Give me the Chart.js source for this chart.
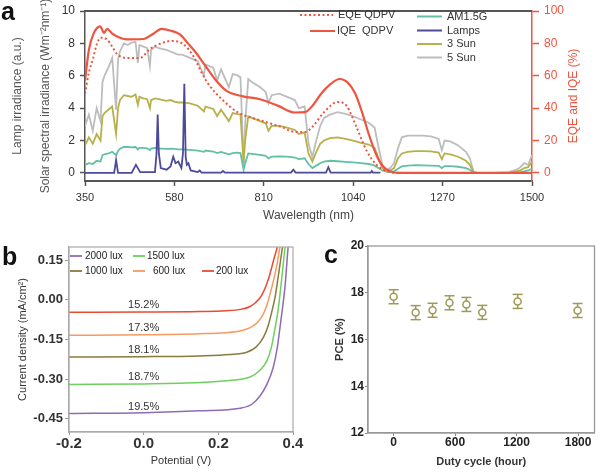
<!DOCTYPE html>
<html>
<head>
<meta charset="utf-8">
<script src="https://cdn.jsdelivr.net/npm/chart.js@4.4.1/dist/chart.umd.min.js"></script>
<style>
  body { margin: 0; background: #fff; }
  #wrap { position: relative; width: 600px; height: 473px; overflow: hidden; }
  canvas { position: absolute; }
  .lbl { position: absolute; font: bold 25px "Liberation Sans", Arial, sans-serif; line-height: 25px; color: #111; }
</style>
</head>
<body>
<div id="wrap">
  <canvas id="cb" width="310" height="243" style="left:0px;top:230px"></canvas>
  <canvas id="cc" width="300" height="243" style="left:300px;top:230px"></canvas>
  <canvas id="ca" width="600" height="228" style="left:0px;top:0px"></canvas>
  <div class="lbl" style="left:1px;top:-1px">a</div>
  <div class="lbl" style="left:2px;top:244px">b</div>
  <div class="lbl" style="left:324px;top:242px">c</div>
</div>
<script>
// ---------- panel a : spectra (left axis) ----------
const wl    = [350,360,370,380,390,395,400,410,420,430,435,440,450,460,470,480,486,490,500,510,517,520,530,540,550,560,570,580,590,600,620,640,656,660,680,690,700,720,730,740,750,758,762,770,780,800,815,822,830,850,870,890,900,915,925,935,945,955,965,980,1000,1020,1040,1060,1080,1095,1105,1115,1125,1135,1145,1155,1165,1180,1200,1220,1240,1260,1268,1275,1290,1310,1330,1340,1350,1360,1400,1440,1460,1470,1480,1490,1500];
const am15  = [0.5,0.6,0.55,0.75,0.7,1.1,1.15,1.2,1.3,1.1,1.35,1.5,1.6,1.6,1.58,1.6,1.45,1.55,1.55,1.52,1.4,1.5,1.55,1.5,1.5,1.48,1.5,1.48,1.45,1.45,1.42,1.38,1.3,1.38,1.32,1.22,1.3,1.15,1.22,1.25,1.22,0.2,0.6,1.2,1.18,1.12,1.05,0.9,1.0,1.02,1.0,0.95,0.85,0.9,0.55,0.3,0.45,0.6,0.7,0.75,0.72,0.68,0.65,0.6,0.55,0.45,0.3,0.15,0.08,0.05,0.1,0.25,0.4,0.45,0.48,0.47,0.45,0.44,0.3,0.42,0.42,0.38,0.3,0.2,0.02,0,0,0,0.02,0.05,0.1,0.15,0.25];
const sun3  = [1.7,2.2,1.8,2.4,2.0,3.5,3.7,3.9,4.1,2.4,4.0,4.5,4.8,4.75,4.7,4.85,4.2,4.7,4.6,4.55,4.0,4.5,4.6,4.55,4.5,4.45,4.5,4.4,4.35,4.35,4.3,4.15,3.8,4.1,3.95,3.5,3.9,3.2,3.7,3.65,3.6,0.6,2.0,3.5,3.4,3.2,3.05,2.6,2.9,2.9,2.8,2.65,2.4,2.5,1.2,0.7,1.3,1.8,2.0,2.15,2.2,2.1,2.0,1.85,1.75,1.55,0.9,0.3,0.1,0.15,0.3,0.9,1.2,1.3,1.35,1.35,1.33,1.25,0.85,1.2,1.15,1.0,0.75,0.5,0.05,0,0,0,0.1,0.15,0.3,0.35,0.7];
const sun5  = [2.9,3.6,2.6,4.0,3.2,5.6,6.0,6.5,7.1,3.9,7.0,7.5,8.0,7.9,8.05,8.1,6.8,7.9,7.8,7.7,6.6,7.6,7.8,7.7,7.65,7.6,7.5,7.4,7.3,7.3,7.1,6.9,6.0,6.7,6.5,5.7,6.4,5.3,6.1,6.05,5.9,0.5,3.0,5.8,5.6,5.3,5.0,4.3,4.8,4.9,4.7,4.5,4.0,4.1,1.8,1.0,2.0,2.9,3.4,3.6,3.75,3.65,3.5,3.3,3.1,2.8,1.6,0.5,0.15,0.3,0.6,1.5,2.2,2.3,2.3,2.3,2.25,2.1,1.4,2.0,1.95,1.7,1.3,0.9,0.05,0,0,0.05,0.2,0.35,0.6,0.5,1.1];
const lampWl  = [350,425,430,435,470,481,492,530,534,537,540,545,560,570,577,583,590,598,602,605.5,609,612,616,622,640,645,650,700,705,710,880,886,892,970,976,982,1085,1088,1091,1110];
const lampVal = [0,0,0.8,0,0,0.5,0.05,0.05,1.2,3.6,1.2,0.3,0.2,0.4,1.0,0.6,0.7,0.3,1.2,5.5,1.0,0.5,0.6,0.15,0.05,0.15,0.02,0.02,0.12,0.02,0.02,0.2,0.02,0.02,0.35,0.02,0.02,0.12,0.02,0.02];
// ---------- panel a : quantum efficiency (right axis, %) ----------
const iqeWl  = [350,360,372,389,399,407,420,440,457,500,526,547,569,594,615,633,660,684,715,757,800,847,890,916,937,958,980,1005,1025,1045,1062,1080,1098,1115,1135,1160,1300,1500];
const iqeVal = [57,76,86,90.5,86.5,89,86,83.5,82.5,82.7,86,89,88,85.5,80,75,66,58,50.5,47.3,45.5,41.4,37.3,37.5,42,49,54.5,58,56,49,38,24,12,4.5,1,0,0,0];
const eqeWl  = [350,360,371,381,390,406,420,432,457,491,517,551,573,603,629,650,667,702,744,804,856,890,916,937,963,1000,1023,1049,1075,1100,1126,1150,1300,1500];
const eqeVal = [49,62,71,80,83.5,82.5,78,73.5,71,71,76.5,80.5,81.5,79.5,72,62,55,45.5,37.3,32.3,28.3,25.3,25.3,29,37,43.8,41.4,28,13.5,5,1.2,0,0,0];
const aXTicks  = [350,580,810,1040,1270,1500];
const aYTicks  = [0,2,4,6,8,10];
const aY2Ticks = [0,20,40,60,80,100];
const aLegendLeft  = ['EQE QDPV','IQE  QDPV'];
const aLegendRight = ['AM1.5G','Lamps','3 Sun','5 Sun'];

// ---------- panel b : J-V curves ----------
const luxLabels = ['2000 lux','1500 lux','1000 lux','600 lux','200 lux'];
const pceLabels = ['19.5%','18.7%','18.1%','17.3%','15.2%'];
const v2000 = [-0.2,0,0.15,0.258,0.29,0.312,0.33,0.347,0.358,0.365,0.372,0.379,0.387,0.392];
const j2000 = [-0.43,-0.427,-0.42,-0.41,-0.395,-0.363,-0.32,-0.256,-0.18,-0.106,-0.03,0.056,0.2,0.26];
const v1500 = [-0.2,0,0.15,0.23,0.285,0.31,0.33,0.342,0.352,0.36,0.367,0.379,0.385];
const j1500 = [-0.32,-0.318,-0.313,-0.305,-0.292,-0.268,-0.231,-0.18,-0.106,-0.04,0.044,0.2,0.26];
const v1000 = [-0.2,0,0.15,0.23,0.276,0.3,0.32,0.333,0.343,0.352,0.361,0.372,0.378];
const j1000 = [-0.216,-0.215,-0.212,-0.207,-0.198,-0.18,-0.144,-0.1,-0.046,0.01,0.094,0.2,0.25];
const v600  = [-0.2,0,0.15,0.22,0.258,0.285,0.303,0.318,0.33,0.347,0.358,0.365,0.372];
const j600  = [-0.134,-0.132,-0.128,-0.124,-0.118,-0.105,-0.088,-0.06,-0.02,0.069,0.14,0.2,0.25];
const v200  = [-0.2,0,0.15,0.22,0.26,0.285,0.3,0.316,0.334,0.35,0.358,0.365];
const j200  = [-0.047,-0.046,-0.044,-0.041,-0.036,-0.025,-0.01,0.017,0.078,0.16,0.2,0.24];
const bXTicks = [-0.2,0,0.2,0.4];
const bYTicks = [-0.45,-0.3,-0.15,0,0.15];

// ---------- panel c : stability ----------
const dutyHours = [0,215,380,545,710,865,1210,1795];
const pceMean   = [17.83,17.15,17.25,17.57,17.5,17.16,17.63,17.24];
const pceErr    = [0.3,0.3,0.3,0.3,0.3,0.3,0.3,0.3];
const cXTicks = [0,600,1200,1800];
const cYTicks = [12,14,16,18,20];

// ---------- helpers ----------
const FONT = '"Liberation Sans", Arial, sans-serif';
Chart.defaults.font.family = FONT;
const RED = '#ef5440';
function pts(xs, ys){ return xs.map((x,i)=>({x:x, y:ys[i]})); }
function setTicks(arr){ return s => { s.ticks = arr.map(v => ({value:v})); }; }
function fixW(w){ return s => { s.width = w; }; }
function fixH(h){ return s => { s.height = h; }; }
function line(ctx, x1, y1, x2, y2, color, w, dash){
  ctx.save(); ctx.strokeStyle = color; ctx.lineWidth = w; ctx.setLineDash(dash || []);
  ctx.beginPath(); ctx.moveTo(x1,y1); ctx.lineTo(x2,y2); ctx.stroke(); ctx.restore();
}
function txt(ctx, s, x, y, font, color, align){
  ctx.save(); ctx.font = font; ctx.fillStyle = color; ctx.textAlign = align || 'left';
  ctx.textBaseline = 'middle'; ctx.fillText(s, x, y); ctx.restore();
}
function spec(label, xs, ys, color, w){
  return {label, data: pts(xs, ys), borderColor: color, borderWidth: w, pointRadius: 0, tension: 0, yAxisID: 'y'};
}

// ---------- chart a ----------
const aPlugin = {
  id: 'aDecor',
  afterDraw(chart){
    const c = chart.ctx, a = chart.chartArea;
    line(c, a.left, a.top, a.right, a.top, '#555', 2);
    // right-hand title, reading bottom to top
    c.save(); c.translate(chart.scales.y2.right - 26, (a.top + a.bottom)/2); c.rotate(-Math.PI/2);
    txt(c, 'EQE and IQE (%)', 0, 0, '12px ' + FONT, RED, 'center'); c.restore();
    // legend
    line(c, 300, 15, 333, 15, RED, 2, [2,2.5]);
    line(c, 310, 31, 335, 31, RED, 2);
    txt(c, aLegendLeft[0], 338, 15, '11px ' + FONT, '#333');
    txt(c, aLegendLeft[1], 337, 31, '11px ' + FONT, '#333');
    const cols = ['#62c0a5','#4d4a9a','#b6b14a','#bdbdbd'];
    const ys = [16.5, 30.5, 44, 57.5];
    aLegendRight.forEach((s,i) => {
      line(c, 417, ys[i], 442, ys[i], cols[i], 2);
      txt(c, s, 447, ys[i], '11px ' + FONT, '#333');
    });
  }
};

new Chart(document.getElementById('ca'), {
  type: 'line',
  data: { datasets: [
    {label:'IQE QDPV', data: pts(iqeWl, iqeVal), borderColor: RED, borderWidth: 2.2, pointRadius: 0, cubicInterpolationMode: 'monotone', yAxisID: 'y2'},
    {label:'EQE QDPV', data: pts(eqeWl, eqeVal), borderColor: RED, borderWidth: 2, borderDash: [2,2.5], pointRadius: 0, cubicInterpolationMode: 'monotone', yAxisID: 'y2'},
    spec('Lamps', lampWl, lampVal, '#4d4a9a', 1.8),
    spec('AM1.5G', wl, am15, '#62c0a5', 1.8),
    spec('3 Sun', wl, sun3, '#b6b14a', 1.8),
    spec('5 Sun', wl, sun5, '#bdbdbd', 1.8)
  ]},
  options: {
    responsive: false, animation: false,
    layout: { padding: {top: 6, right: 0, bottom: 0, left: 0} },
    plugins: { legend: {display: false}, tooltip: {enabled: false} },
    scales: {
      x: { type: 'linear', min: 350, max: 1500,
        afterBuildTicks: setTicks(aXTicks), afterFit: fixH(47),
        grid: {drawOnChartArea: false, tickLength: 5, color: '#555', tickWidth: 1.5},
        border: {display: true, color: '#555', width: 2},
        ticks: {font: {size: 11, lineHeight: 1}, color: '#333', padding: 6, maxRotation: 0, autoSkip: false, callback: v => String(v)},
        title: {display: true, text: 'Wavelength (nm)', font: {size: 12}, color: '#444', padding: {top: 0, bottom: 5}} },
      y: { position: 'left', min: -0.5, max: 10,
        afterBuildTicks: setTicks(aYTicks), afterFit: fixW(85),
        grid: {drawOnChartArea: false, tickLength: 5, color: '#555', tickWidth: 1.5},
        border: {display: true, color: '#555', width: 1.5},
        ticks: {font: {size: 12, lineHeight: 1}, color: '#333', padding: 5, callback: v => String(v)},
        title: {display: true, text: ['Lamp irradiance (a.u.)', 'Solar spectral irradiance (Wm\u207B\u00B2nm\u207B\u00B9)'],
          font: {size: 12, lineHeight: 2.375}, color: '#555', padding: {top: 3.25, bottom: 0}} },
      y2: { position: 'right', min: -5, max: 100,
        afterBuildTicks: setTicks(aY2Ticks), afterFit: fixW(68),
        grid: {drawOnChartArea: false, tickLength: 7, color: RED, tickWidth: 1.5},
        border: {display: true, color: RED, width: 1.5},
        ticks: {font: {size: 12, lineHeight: 1}, color: RED, padding: 5, callback: v => String(v)} }
    }
  },
  plugins: [aPlugin]
});

// ---------- chart b ----------
const bColors = ['#8e6bb3','#6fcf5e','#8a7a3e','#f79a60','#ea4a32'];
const bV = [v2000, v1500, v1000, v600, v200];
const bJ = [j2000, j1500, j1000, j600, j200];
const bPlugin = {
  id: 'bDecor',
  afterDraw(chart){
    const c = chart.ctx, a = chart.chartArea, xs = chart.scales.x, ys = chart.scales.y;
    c.save(); c.strokeStyle = '#aaa'; c.lineWidth = 1.2; c.strokeRect(a.left, a.top, a.right - a.left, a.bottom - a.top); c.restore();
    // efficiency labels just above each plateau
    pceLabels.forEach((s,i) => {
      txt(c, s, xs.getPixelForValue(0), ys.getPixelForValue(bJ[i][0]) - 7, '11px ' + FONT, '#333', 'center');
    });
    // legend, three columns
    const lx = [70, 133, 70, 133, 202], tx = [85, 147, 85, 153, 216], ly = [26, 26, 41, 41, 41];
    luxLabels.forEach((s,i) => {
      line(c, lx[i], ly[i], lx[i] + 12, ly[i], bColors[i], 1.8);
      txt(c, s, tx[i], ly[i], '10px ' + FONT, '#222');
    });
  }
};
new Chart(document.getElementById('cb'), {
  type: 'line',
  data: { datasets: luxLabels.map((s,i) => ({
    label: s, data: pts(bV[i], bJ[i]), borderColor: bColors[i], borderWidth: 1.5,
    pointRadius: 0, cubicInterpolationMode: 'monotone'
  })) },
  options: {
    responsive: false, animation: false,
    layout: { padding: {top: 17, right: 17, bottom: 0, left: 0} },
    plugins: { legend: {display: false}, tooltip: {enabled: false} },
    scales: {
      x: { type: 'linear', min: -0.2, max: 0.4,
        afterBuildTicks: setTicks(bXTicks), afterFit: fixH(41),
        grid: {drawOnChartArea: false, tickLength: 3, color: '#999'},
        border: {display: true, color: '#aaa', width: 1.2},
        ticks: {font: {size: 15, weight: 'bold', lineHeight: 1}, color: '#333', padding: 1, maxRotation: 0, autoSkip: false, callback: v => v.toFixed(1)},
        title: {display: true, text: 'Potential (V)', font: {size: 11}, color: '#333', padding: {top: 0, bottom: 5.4}} },
      y: { min: -0.5, max: 0.2,
        afterBuildTicks: setTicks(bYTicks), afterFit: fixW(69),
        grid: {drawOnChartArea: false, tickLength: 4, color: '#999'},
        border: {display: true, color: '#aaa', width: 1.2},
        ticks: {font: {size: 13, weight: 'bold', lineHeight: 1}, color: '#333', padding: 2, callback: v => v.toFixed(2)},
        title: {display: true, text: 'Current density (mA/cm\u00B2)', font: {size: 11}, color: '#333', padding: {top: 16, bottom: 0}} }
    }
  },
  plugins: [bPlugin]
});

// ---------- chart c ----------
const OLIVE = '#9c9a55';
const cPlugin = {
  id: 'cDecor',
  beforeDatasetsDraw(chart){
    const c = chart.ctx, xs = chart.scales.x, ys = chart.scales.y;
    dutyHours.forEach((h,i) => {
      const x = xs.getPixelForValue(h);
      const yt = ys.getPixelForValue(pceMean[i] + pceErr[i]);
      const yb = ys.getPixelForValue(pceMean[i] - pceErr[i]);
      line(c, x, yt, x, yb, OLIVE, 1.5);
      line(c, x - 5, yt, x + 5, yt, OLIVE, 1.5);
      line(c, x - 5, yb, x + 5, yb, OLIVE, 1.5);
    });
  },
  afterDraw(chart){
    const c = chart.ctx, a = chart.chartArea;
    c.save(); c.strokeStyle = '#999'; c.lineWidth = 1.3; c.strokeRect(a.left, a.top, a.right - a.left, a.bottom - a.top); c.restore();
  }
};
new Chart(document.getElementById('cc'), {
  type: 'scatter',
  data: { datasets: [{
    label: 'PCE', data: pts(dutyHours, pceMean), showLine: false,
    pointRadius: 3.5, pointBackgroundColor: '#fff', pointBorderColor: OLIVE, pointBorderWidth: 1.5
  }] },
  options: {
    responsive: false, animation: false,
    layout: { padding: {top: 16, right: 3, bottom: 0, left: 0} },
    plugins: { legend: {display: false}, tooltip: {enabled: false} },
    scales: {
      x: { type: 'linear', min: -250, max: 1960,
        afterBuildTicks: setTicks(cXTicks), afterFit: fixH(40),
        grid: {drawOnChartArea: false, tickLength: 3, color: '#888'},
        border: {display: true, color: '#999', width: 1.3},
        ticks: {font: {size: 12, weight: 'bold', lineHeight: 1}, color: '#222', padding: 1, maxRotation: 0, autoSkip: false, callback: v => String(v)},
        title: {display: true, text: 'Duty cycle (hour)', font: {size: 11, weight: 'bold'}, color: '#333', padding: {top: 0, bottom: 4.4}} },
      y: { min: 12, max: 20,
        afterBuildTicks: setTicks(cYTicks), afterFit: fixW(68),
        grid: {drawOnChartArea: false, tickLength: 3, color: '#888'},
        border: {display: true, color: '#999', width: 1.3},
        ticks: {font: {size: 12, weight: 'bold', lineHeight: 1}, color: '#222', padding: 1, callback: v => String(v)},
        title: {display: true, text: 'PCE (%)', font: {size: 11, weight: 'bold'}, color: '#333', padding: {top: 33.4, bottom: 0}} }
    }
  },
  plugins: [cPlugin]
});
</script>
</body>
</html>
